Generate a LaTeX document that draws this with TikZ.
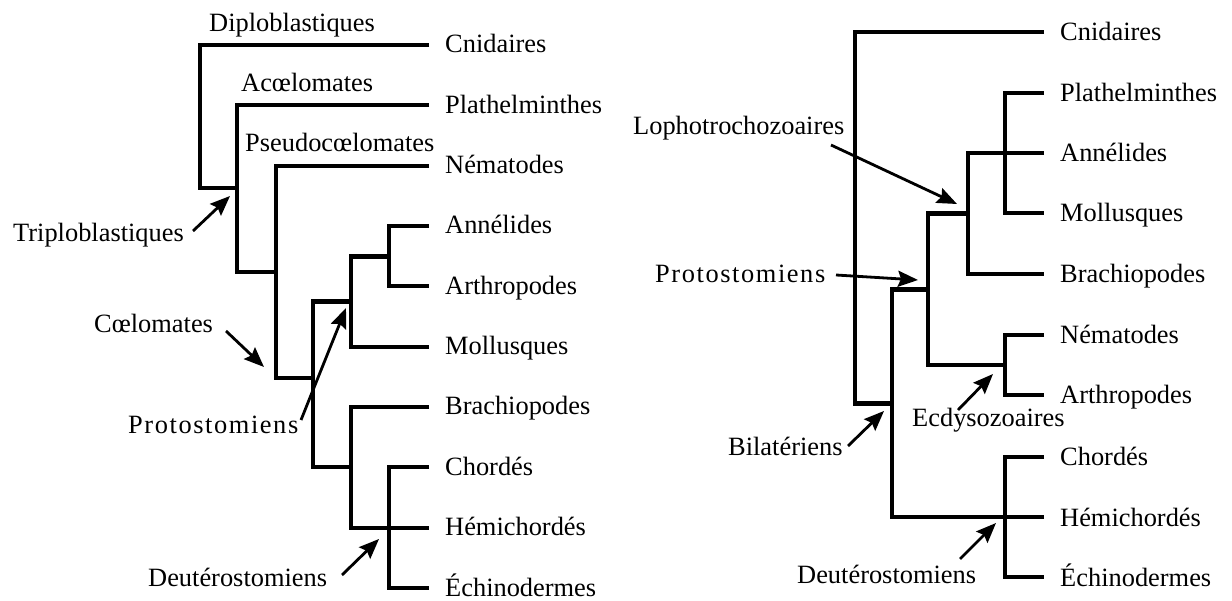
\documentclass[tikz,border=0pt]{standalone}
\usepackage{fontspec}
\setmainfont{Liberation Serif}
\usetikzlibrary{arrows.meta}
\begin{document}
\begin{tikzpicture}[x=1pt,y=-1pt,
  branch/.style={line width=4.2pt},
  pointer/.style={line width=2.8pt,-{Stealth[length=20pt,width=16pt,inset=3pt]}},
  lbl/.style={anchor=base west,inner sep=0pt,font=\fontsize{26.4}{30}\selectfont},
  spaced/.style={lbl,font=\fontsize{26.4}{30}\selectfont\addfontfeatures{LetterSpace=6}}]
\useasboundingbox (0,0) rectangle (1232,601);

% ---------- left tree: leaf ends ----------
\foreach \n/\y in {Cni/45,Pla/105.3,Nem/165.7,Ann/226,Art/286.3,Mol/346.7,Bra/407,Cho/467.3,Hem/527.7,Ech/588}
  \coordinate (l\n) at (429,\y);
\node[lbl] (tlCni) at (445,53) {Cnidaires};
\node[lbl] (tlPla) at (445,113.3) {Plathelminthes};
\node[lbl] (tlNem) at (445,173.7) {Nématodes};
\node[lbl] (tlAnn) at (445,234) {Annélides};
\node[lbl] (tlArt) at (445,294.3) {Arthropodes};
\node[lbl] (tlMol) at (445,354.7) {Mollusques};
\node[lbl] (tlBra) at (445,415) {Brachiopodes};
\node[lbl] (tlCho) at (445,475.3) {Chordés};
\node[lbl] (tlHem) at (445,535.7) {Hémichordés};
\node[lbl] (tlEch) at (445,596) {Échinodermes};

% left tree: internal points
\coordinate (kDi) at (200,188);
\coordinate (jDi) at (237,188);
\coordinate (kAc) at (237,272);
\coordinate (jAc) at (276,272);
\coordinate (kCo) at (276,378);
\coordinate (nBi) at (313,378);
\coordinate (nAA) at (389,256.5);
\coordinate (nPr) at (351,301.5);
\coordinate (nDe) at (351,467.3);
\coordinate (nDeB) at (351,527.7);
\coordinate (nCh) at (389,527.7);

\draw[branch] (lCni) -| (kDi) -- (jDi);
\draw[branch] (lPla) -| (kAc) -- (jAc);
\draw[branch] (lNem) -| (kCo) -- (nBi);
\draw[branch] (lAnn) -| (nAA) |- (lArt);
\draw[branch] (nAA) -| (nPr) |- (lMol);
\draw[branch] (nPr) -| (nBi) |- (nDe);
\draw[branch] (lBra) -| (nDeB) -- (lHem);
\draw[branch] (lCho) -| (nCh) |- (lEch);

% left tree: clade names
\node[lbl] (tDip) at (209,32) {Diploblastiques};
\node[lbl] (tAco) at (241,92) {Acœlomates};
\node[lbl] (tPse) at (245,152) {Pseudocœlomates};
\node[lbl] (tTri) at (13,242) {Triploblastiques};
\node[lbl] (tCoe) at (94,333) {Cœlomates};
\node[spaced] (tPro) at (128,434) {Protostomiens};
\node[lbl] (tDeu) at (148,586) {Deutérostomiens};

\coordinate (aTri) at (193,231);  \coordinate (hTri) at (230,196);
\coordinate (aCoe) at (226,331);  \coordinate (hCoe) at (264,367);
\coordinate (aPro) at (301,420);  \coordinate (hPro) at (346,308);
\coordinate (aDeu) at (342,575);  \coordinate (hDeu) at (379,539);
\draw[pointer] (aTri) -- (hTri);
\draw[pointer] (aCoe) -- (hCoe);
\draw[pointer] (aPro) -- (hPro);
\draw[pointer] (aDeu) -- (hDeu);

% ---------- right tree: leaf ends ----------
\foreach \n/\y in {Cni/32,Pla/93,Ann/153,Mol/213,Bra/274,Nem/335,Art/395,Cho/457,Hem/517,Ech/577}
  \coordinate (r\n) at (1044,\y);
\node[lbl] (trCni) at (1060,41) {Cnidaires};
\node[lbl] (trPla) at (1060,102) {Plathelminthes};
\node[lbl] (trAnn) at (1060,162) {Annélides};
\node[lbl] (trMol) at (1060,222) {Mollusques};
\node[lbl] (trBra) at (1060,283) {Brachiopodes};
\node[lbl] (trNem) at (1060,344) {Nématodes};
\node[lbl] (trArt) at (1060,404) {Arthropodes};
\node[lbl] (trCho) at (1060,466) {Chordés};
\node[lbl] (trHem) at (1060,526) {Hémichordés};
\node[lbl] (trEch) at (1060,586) {Échinodermes};

% right tree: internal points
\coordinate (rTri) at (1005,153);
\coordinate (rLoph) at (968,213.5);
\coordinate (rEcd) at (1005,365);
\coordinate (rPro) at (928,289.5);
\coordinate (rDeu) at (1005,517);
\coordinate (rBil) at (892,403.5);
\coordinate (rRoot) at (855,403.5);

\draw[branch] (rPla) -| (rTri) |- (rMol);
\draw[branch] (rAnn) -| (rLoph) |- (rBra);
\draw[branch] (rNem) -| (rEcd) |- (rArt);
\draw[branch] (rLoph) -| (rPro) |- (rEcd);
\draw[branch] (rCho) -| (rDeu) |- (rEch);
\draw[branch] (rHem) -- (rDeu);
\draw[branch] (rPro) -| (rBil) |- (rDeu);
\draw[branch] (rCni) -| (rRoot) -- (rBil);

% right tree: clade names
\node[lbl] (uLop) at (633,135) {Lophotrochozoaires};
\node[spaced] (uPro) at (655,283) {Protostomiens};
\node[lbl] (uBil) at (728,456) {Bilatériens};
\node[lbl] (uEcd) at (912,427) {Ecdysozoaires};
\node[lbl] (uDeu) at (797,583) {Deutérostomiens};

\coordinate (bLop) at (831,145);  \coordinate (gLop) at (957,204);
\coordinate (bPro) at (836,275);  \coordinate (gPro) at (918,280);
\coordinate (bBil) at (848,446);  \coordinate (gBil) at (884,411);
\coordinate (bEcd) at (958,410);  \coordinate (gEcd) at (993,374);
\coordinate (bDeu) at (960,559);  \coordinate (gDeu) at (996,523);
\draw[pointer] (bLop) -- (gLop);
\draw[pointer] (bPro) -- (gPro);
\draw[pointer] (bBil) -- (gBil);
\draw[pointer] (bEcd) -- (gEcd);
\draw[pointer] (bDeu) -- (gDeu);
\end{tikzpicture}
\end{document}
